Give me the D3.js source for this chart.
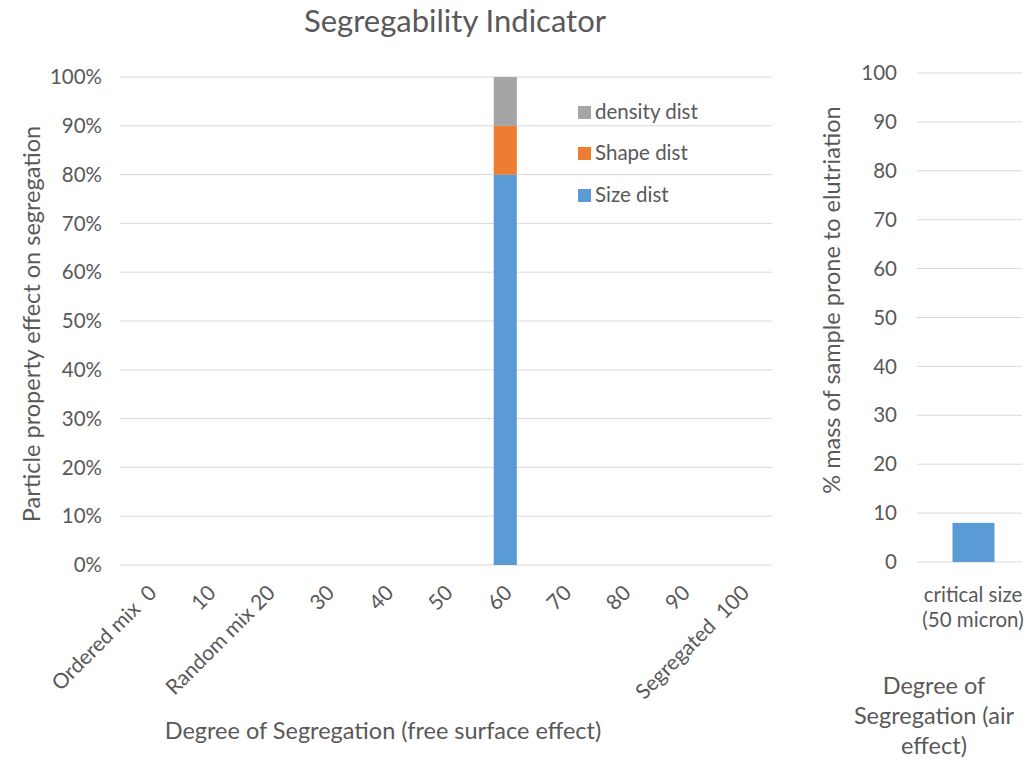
<!DOCTYPE html>
<html>
  <head>
    <meta charset="utf-8">
    <title>Segregability Indicator</title>
    <script src="https://d3js.org/d3.v7.min.js"></script>
    <style>
      body { margin: 0; background: #fff; }
      text { font-family: Lato, "Open Sans", sans-serif; fill: #595959; }
    </style>
  </head>
  <body>
    <script>
      // left chart: categories and stacked series (fractions)
      const categories = ["Ordered mix  0", "10", "Random mix 20", "30", "40", "50", "60", "70", "80", "90", "Segregated  100"];
      const sizeDist = [0, 0, 0, 0, 0, 0, 0.8, 0, 0, 0, 0];
      const shapeDist = [0, 0, 0, 0, 0, 0, 0.1, 0, 0, 0, 0];
      const densityDist = [0, 0, 0, 0, 0, 0, 0.1, 0, 0, 0, 0];
      const seriesNames = ["Size dist", "Shape dist", "density dist"];
      const seriesColors = ["#5b9bd5", "#ed7d31", "#a5a5a5"];
      const leftTicks = [0, 0.1, 0.2, 0.3, 0.4, 0.5, 0.6, 0.7, 0.8, 0.9, 1];

      // right chart
      const airCategories = ["critical size (50 micron)"];
      const airValues = [8];
      const rightTicks = [0, 10, 20, 30, 40, 50, 60, 70, 80, 90, 100];

      const W = 1031, H = 761;
      const svg = d3.select("body").append("svg")
          .attr("width", W)
          .attr("height", H);

      svg.append("text")
          .attr("x", 455).attr("y", 32)
          .attr("text-anchor", "middle")
          .style("font-size", "31px")
          .text("Segregability Indicator");

      // ---- left chart ----
      const x = d3.scaleBand()
          .domain(categories)
          .range([120, 772])
          .paddingInner(0.61)
          .paddingOuter(0.305);
      const y = d3.scaleLinear()
          .domain([0, 1])
          .range([565, 77]);

      const gl = svg.append("g");
      gl.selectAll("line.grid")
        .data(leftTicks)
        .join("line")
          .attr("x1", 120).attr("x2", 772)
          .attr("y1", d => y(d)).attr("y2", d => y(d))
          .style("stroke", "#d9d9d9")
          .style("stroke-width", 1);

      gl.selectAll("text.ytick")
        .data(leftTicks)
        .join("text")
          .attr("x", 102)
          .attr("y", d => y(d))
          .attr("dy", "0.35em")
          .attr("text-anchor", "end")
          .style("font-size", "20.5px")
          .text(d => d3.format(".0%")(d));

      const stackData = categories.map((c, i) => ({cat: c, s0: sizeDist[i], s1: shapeDist[i], s2: densityDist[i]}));
      const stacked = d3.stack().keys(["s0", "s1", "s2"])(stackData);
      gl.selectAll("g.series")
        .data(stacked)
        .join("g")
          .style("fill", (d, i) => seriesColors[i])
        .selectAll("rect")
        .data(d => d.filter(p => p[1] > p[0]))
        .join("rect")
          .attr("x", d => x(d.data.cat))
          .attr("width", x.bandwidth())
          .attr("y", d => y(d[1]))
          .attr("height", d => y(d[0]) - y(d[1]));

      gl.selectAll("text.xtick")
        .data(categories)
        .join("text")
          .attr("text-anchor", "end")
          .attr("transform", d => `translate(${x(d) + x.bandwidth() / 2 + 3},${589}) rotate(-45)`)
          .attr("dy", "0.35em")
          .style("font-size", "21px")
          .style("white-space", "pre")
          .text(d => d);

      svg.append("text")
          .attr("x", 383).attr("y", 739)
          .attr("text-anchor", "middle")
          .style("font-size", "23.5px")
          .text("Degree of Segregation (free  surface effect)");

      svg.append("text")
          .attr("transform", "translate(40,324) rotate(-90)")
          .attr("text-anchor", "middle")
          .style("font-size", "23.5px")
          .text("Particle property effect on segregation");

      // legend (top to bottom: density, shape, size)
      const legendOrder = [2, 1, 0];
      const lg = svg.append("g");
      legendOrder.forEach((k, i) => {
        const ly = [112, 153, 195][i];
        lg.append("rect")
            .attr("x", 578).attr("y", ly - 6)
            .attr("width", 13).attr("height", 13)
            .style("fill", seriesColors[k]);
        lg.append("text")
            .attr("x", 595).attr("y", ly)
            .attr("dy", "0.35em")
            .style("font-size", "20.5px")
            .text(seriesNames[k]);
      });

      // ---- right chart ----
      const x2 = d3.scaleBand()
          .domain(airCategories)
          .range([921, 1026])
          .paddingInner(0.6)
          .paddingOuter(0.3);
      const y2 = d3.scaleLinear()
          .domain([0, 100])
          .range([562, 73]);

      const gr = svg.append("g");
      gr.selectAll("line.grid")
        .data(rightTicks)
        .join("line")
          .attr("x1", 917).attr("x2", 1022)
          .attr("y1", d => y2(d)).attr("y2", d => y2(d))
          .style("stroke", "#d9d9d9")
          .style("stroke-width", 1);

      gr.selectAll("text.ytick")
        .data(rightTicks)
        .join("text")
          .attr("x", 897)
          .attr("y", d => y2(d))
          .attr("dy", "0.35em")
          .attr("text-anchor", "end")
          .style("font-size", "20.5px")
          .text(d => d);

      gr.selectAll("rect")
        .data(airValues)
        .join("rect")
          .attr("x", (d, i) => x2(airCategories[i]))
          .attr("width", x2.bandwidth())
          .attr("y", d => y2(d))
          .attr("height", d => y2(0) - y2(d))
          .style("fill", seriesColors[0]);

      const catLabel = gr.append("text")
          .attr("text-anchor", "middle")
          .style("font-size", "20.5px");
      catLabel.append("tspan").attr("x", 973).attr("y", 602).text("critical size");
      catLabel.append("tspan").attr("x", 973).attr("y", 627).text("(50 micron)");

      const airTitle = svg.append("text")
          .attr("text-anchor", "middle")
          .style("font-size", "23.5px");
      [["Degree of", 694], ["Segregation (air", 724], ["effect)", 754]].forEach(([t, ty]) => {
        airTitle.append("tspan").attr("x", 934).attr("y", ty).text(t);
      });

      svg.append("text")
          .attr("transform", "translate(840,300) rotate(-90)")
          .attr("text-anchor", "middle")
          .style("font-size", "23.5px")
          .text("% mass of sample prone to elutriation");
    </script>
  </body>
</html>
